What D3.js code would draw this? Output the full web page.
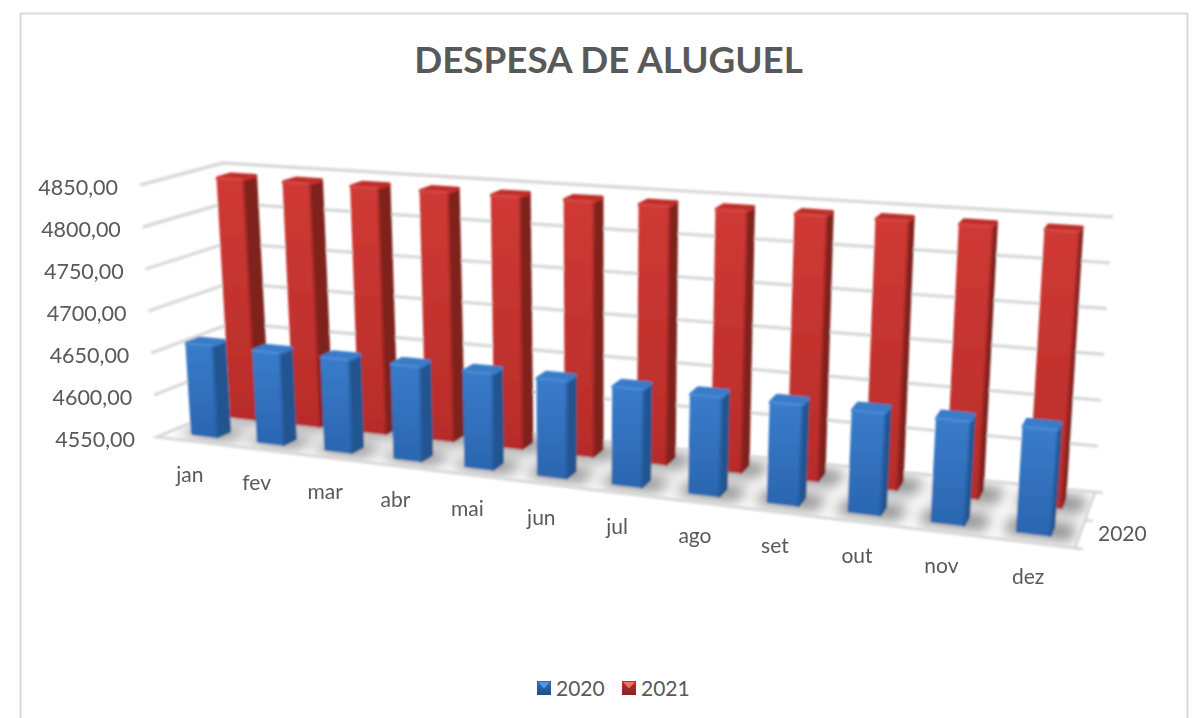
<!DOCTYPE html>
<html><head><meta charset="utf-8">
<script src="https://cdn.jsdelivr.net/npm/d3@7"></script>
<style>
html,body{margin:0;padding:0;background:#fff}
text{font-family:Lato,"Open Sans",sans-serif;fill:#595959}
</style></head><body>
<svg id="c" width="1196" height="718"></svg>
<script>
const title = "DESPESA DE ALUGUEL";
const months = ["jan","fev","mar","abr","mai","jun","jul","ago","set","out","nov","dez"];
const seriesNames = ["2020","2021"];
const values2020 = [4658,4657,4657,4657,4657,4657,4656,4656,4656,4656,4656,4656];
const values2021 = [4842,4842,4842,4842,4842,4842,4842,4842,4842,4842,4842,4842];
const valueTicks = [4550,4600,4650,4700,4750,4800,4850];
const depthTicks = ["2020"];
const tickFormat = v => v.toFixed(2).replace(".", ",");

const corners = {
  FLB:[157,437], FLT:[140,185], BLB:[237,403], BLT:[223,163],
  FRB:[1075,548], FRT:[1097,245], BRB:[1095,492], BRT:[1113,217]
};
const warpR = 1.17;
const warp = u => u/(u+warpR*(1-u));
const lerp = (a,b,t)=>a+(b-a)*t;
function P(u,v,h){
  const w = warp(u);
  return [0,1].map(i=>{
    const b0 = lerp(corners.FLB[i],corners.FRB[i],w), b1 = lerp(corners.BLB[i],corners.BRB[i],w);
    const t0 = lerp(corners.FLT[i],corners.FRT[i],w), t1 = lerp(corners.BLT[i],corners.BRT[i],w);
    return lerp(lerp(b0,b1,v),lerp(t0,t1,v),h);
  });
}
const hScale = d3.scaleLinear().domain([4550,4850]).range([0,1]);
const uScale = d3.scaleBand().domain(months).range([0.002,0.999]).paddingInner(0.62).paddingOuter(0.31);
const vScale = d3.scaleBand().domain(seriesNames).range([0,1]).paddingInner(0.68).paddingOuter(0.34);
const vMid = d3.scalePoint().domain(["front","2020","back"]).range([0,1]);
const pal = {
 "2020":{top:"#3a7bc8",front:["#3a7ccb","#2a66b0"],side:"#215590",hi:"#6aa6e8",dark:"#1c4a86",leg:["#2f6db5","#1f4f8c"],tri:"#4f97e6"},
 "2021":{top:"#bf2f2b",front:["#cf3a35","#b82c29"],side:"#7f201d",hi:"#e4605a",dark:"#7a1a18",leg:["#c0302c","#8a2220"],tri:"#f0706a"}
};
const svg = d3.select("#c");
const defs = svg.append("defs");
defs.append("filter").attr("id","soft").attr("x","-10%").attr("y","-10%").attr("width","120%").attr("height","120%")
  .append("feGaussianBlur").attr("stdDeviation",0.9);
defs.append("filter").attr("id","shadow").attr("x","-40%").attr("y","-60%").attr("width","180%").attr("height","220%")
  .append("feGaussianBlur").attr("stdDeviation",7);
seriesNames.forEach(s=>{
  const g = defs.append("linearGradient").attr("id","g"+s).attr("x1",0).attr("y1",0).attr("x2",0).attr("y2",1);
  g.append("stop").attr("offset",0).attr("stop-color",pal[s].front[0]);
  g.append("stop").attr("offset",1).attr("stop-color",pal[s].front[1]);
  const l = defs.append("linearGradient").attr("id","l"+s).attr("x1",0).attr("y1",0).attr("x2",0).attr("y2",1);
  l.append("stop").attr("offset",0).attr("stop-color",pal[s].leg[0]);
  l.append("stop").attr("offset",1).attr("stop-color",pal[s].leg[1]);
});
const poly = pts => "M"+pts.map(p=>p.map(n=>n.toFixed(2)).join(",")).join("L")+"Z";
const line = pts => "M"+pts.map(p=>p.map(n=>n.toFixed(2)).join(",")).join("L");

// chart frame
svg.append("path").attr("d","M20.5,718V13.5H1187.5V718").attr("fill","none").attr("stroke","#d9d9d9").attr("stroke-width",2);

// title
svg.append("text").attr("x",608.5).attr("y",73).attr("text-anchor","middle")
  .attr("font-size",36.8).attr("font-weight",700).text(title);

const scene = svg.append("g").attr("filter","url(#soft)");
const gridColor = "#d9d9d9";
// wall grid
scene.append("g").selectAll("path").data(valueTicks.slice(1)).join("path")
  .attr("d",d=>line([P(0,0,hScale(d)),P(0,1,hScale(d)),P(1,1,hScale(d))]))
  .attr("fill","none").attr("stroke",gridColor).attr("stroke-width",3.4);
// floor
defs.append("clipPath").attr("id","floorClip").append("path").attr("d",poly([P(0,0,0),P(1,0,0),P(1,1,0),P(0,1,0)]));
scene.append("path").attr("d",poly([P(0,0,0),P(1,0,0),P(1,1,0),P(0,1,0)])).attr("fill","#fff");
const rows = [{s:"2021",vals:values2021},{s:"2020",vals:values2020}];
const barData = rows.flatMap(r=>months.map((m,i)=>{
  const a = uScale(m), b = a+uScale.bandwidth();
  const v0 = vScale(r.s), v1 = v0+vScale.bandwidth();
  return {s:r.s,m,val:r.vals[i],a,b,v0,v1};
}));
const shadows = scene.append("g").attr("clip-path","url(#floorClip)").append("g").attr("filter","url(#shadow)");
shadows.selectAll("path").data(barData).join("path")
  .attr("d",d=>{
    const e=0.012, f=0.07;
    return poly([P(d.a-e,d.v0-f,0),P(d.b+e*1.8,d.v0-f,0),P(d.b+e*1.8,d.v1+f,0),P(d.a-e,d.v1+f,0)]);
  }).attr("fill","#707070").attr("opacity",0.82);
// floor edges + depth ticks
scene.append("path").attr("d",poly([P(0,0,0),P(1,0,0),P(1,1,0),P(0,1,0)]))
  .attr("fill","none").attr("stroke",gridColor).attr("stroke-width",3);
scene.append("g").selectAll("path").data(vMid.domain()).join("path")
  .attr("d",d=>line([P(1,vMid(d),0),P(1.0075,vMid(d),0)]))
  .attr("fill","none").attr("stroke",gridColor).attr("stroke-width",3);
// bars with rounded, bevelled edges
const bars = scene.append("g").selectAll("g").data(barData).join("g");
bars.each(function(d){
  const g = d3.select(this), h = hScale(d.val), c = pal[d.s];
  const A=P(d.a,d.v0,0),B=P(d.b,d.v0,0),C=P(d.b,d.v1,0);
  const At=P(d.a,d.v0,h),Bt=P(d.b,d.v0,h),Ct=P(d.b,d.v1,h),Dt=P(d.a,d.v1,h);
  g.append("path").attr("d",poly([B,C,Ct,Bt])).attr("fill",c.side).attr("stroke",c.side).attr("stroke-width",3.5).attr("stroke-linejoin","round");
  g.append("path").attr("d",poly([At,Bt,Ct,Dt])).attr("fill",c.top).attr("stroke",c.top).attr("stroke-width",4).attr("stroke-linejoin","round");
  g.append("path").attr("d",poly([A,B,Bt,At])).attr("fill",`url(#g${d.s})`).attr("stroke",`url(#g${d.s})`).attr("stroke-width",2.5).attr("stroke-linejoin","round");
  g.append("path").attr("d",line([At,Bt])).attr("fill","none").attr("stroke",c.hi).attr("stroke-opacity",0.6).attr("stroke-width",1.4).attr("stroke-linecap","round");
  g.append("path").attr("d",line([Bt,B])).attr("fill","none").attr("stroke",c.dark).attr("stroke-opacity",0.4).attr("stroke-width",1.6);
});

// value labels
svg.append("g").selectAll("text").data(valueTicks).join("text")
  .attr("x",d=>P(0,0,hScale(d))[0]-22).attr("y",d=>P(0,0,hScale(d))[1]+10)
  .attr("text-anchor","end").attr("font-size",21.5).text(tickFormat);
// category labels
svg.append("g").selectAll("text").data(months).join("text")
  .attr("x",d=>P(uScale(d)+uScale.bandwidth()/2,0,0)[0]-1.5)
  .attr("y",d=>P(uScale(d)+uScale.bandwidth()/2,0,0)[1]+41)
  .attr("text-anchor","middle").attr("font-size",21).text(d=>d);
// depth label
svg.append("g").selectAll("text").data(depthTicks).join("text")
  .attr("x",d=>P(1,vMid(d),0)[0]+13).attr("y",d=>P(1,vMid(d),0)[1]+21)
  .attr("font-size",21).text(d=>d);
// legend
const legendX = d3.scalePoint().domain(seriesNames).range([537,622]);
const leg = svg.append("g").selectAll("g").data(seriesNames).join("g")
  .attr("transform",d=>`translate(${legendX(d)},681)`);
leg.append("rect").attr("width",14).attr("height",14).attr("fill",d=>`url(#l${d})`);
leg.append("path").attr("d","M1,1L13,1L7,7.5Z").attr("fill",d=>pal[d].tri);
leg.append("text").attr("x",19).attr("y",14.5).attr("font-size",21).text(d=>d);
</script>
</body></html>
